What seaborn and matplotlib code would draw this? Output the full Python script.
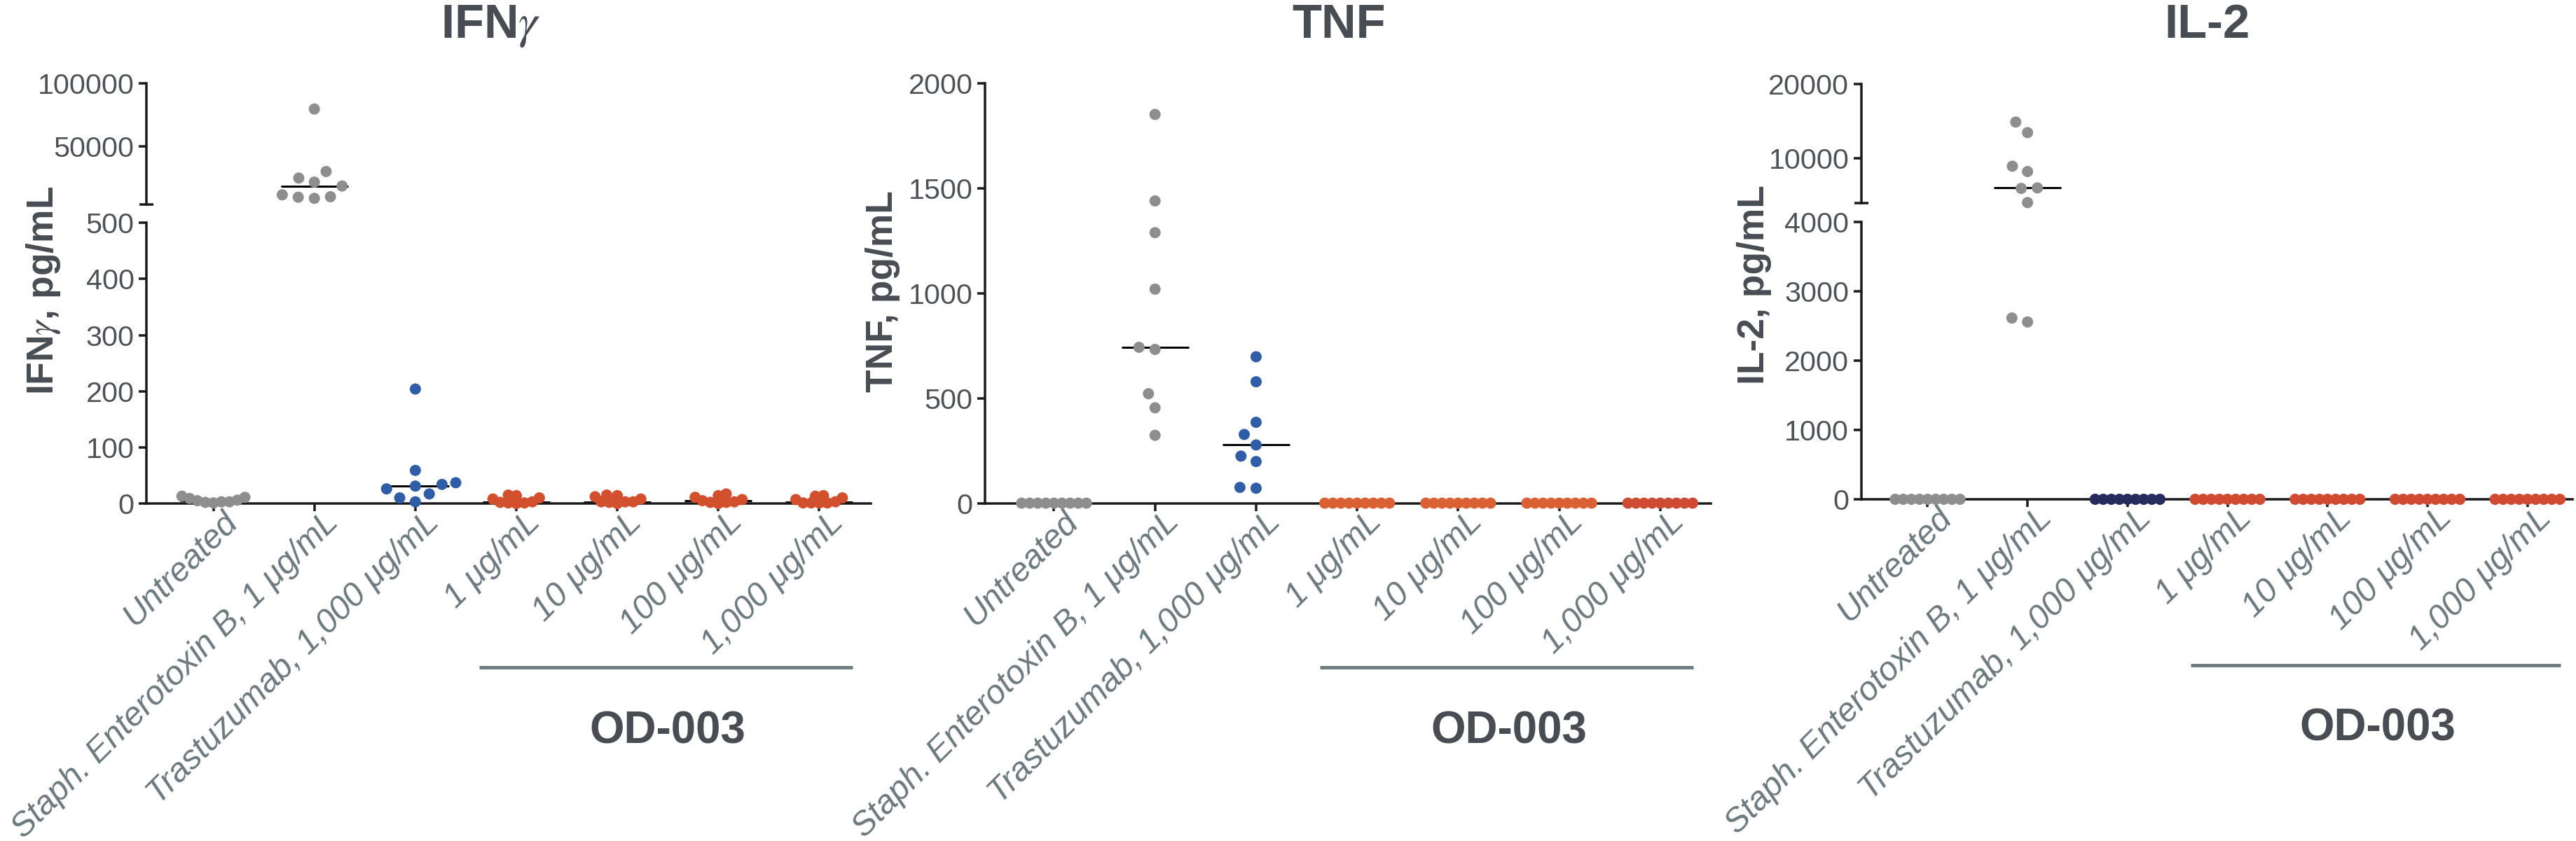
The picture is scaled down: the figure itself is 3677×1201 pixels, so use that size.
import numpy as np
import pandas as pd
import matplotlib
matplotlib.use("Agg")
import matplotlib.pyplot as plt
import matplotlib.transforms as mtransforms
import seaborn as sns

# ---------------- data ----------------
groups = ["Untreated", "Staph. Enterotoxin B, 1 μg/mL", "Trastuzumab, 1,000 μg/mL",
          "1 μg/mL", "10 μg/mL", "100 μg/mL", "1,000 μg/mL"]

ifng_untreated = [3, 13, 5, 11, 1, 9, 2, 6, 3]
ifng_seb = [79800, 30200, 18700, 8900, 11700, 21800, 9800, 25000, 10200]
ifng_trast = [204, 59, 34, 26, 31, 37, 17, 10, 3]
ifng_od1 = [3, 15, 2, 14, 0, 10, 1, 8, 1]
ifng_od10 = [3, 15, 3, 14, 0, 12, 3, 8, 2]
ifng_od100 = [3, 17, 5, 14, 0, 11, 2, 7, 2]
ifng_od1000 = [3, 14, 1, 13, 1, 10, 1, 7, 1]

tnf_untreated = [0, 0, 0, 0, 0, 0, 0, 0, 0]
tnf_seb = [1851, 1439, 1288, 1019, 742, 732, 521, 454, 323]
tnf_trast = [697, 578, 385, 327, 277, 224, 198, 75, 71]
tnf_od1 = [0, 0, 0, 0, 0, 0, 0, 0, 0]
tnf_od10 = [0, 0, 0, 0, 0, 0, 0, 0, 0]
tnf_od100 = [0, 0, 0, 0, 0, 0, 0, 0, 0]
tnf_od1000 = [0, 0, 0, 0, 0, 0, 0, 0, 0]

il2_untreated = [0, 0, 0, 0, 0, 0, 0, 0, 0]
il2_seb = [14880, 13460, 8930, 8210, 6010, 5940, 4030, 2613, 2556]
il2_trast = [0, 0, 0, 0, 0, 0, 0, 0, 0]
il2_od1 = [0, 0, 0, 0, 0, 0, 0, 0, 0]
il2_od10 = [0, 0, 0, 0, 0, 0, 0, 0, 0]
il2_od100 = [0, 0, 0, 0, 0, 0, 0, 0, 0]
il2_od1000 = [0, 0, 0, 0, 0, 0, 0, 0, 0]

ifng_ticks_upper = [50000, 100000]
ifng_ticks_lower = [0, 100, 200, 300, 400, 500]
tnf_ticks = [0, 500, 1000, 1500, 2000]
il2_ticks_upper = [10000, 20000]
il2_ticks_lower = [0, 1000, 2000, 3000, 4000]

# ---------------- style ----------------
GRAY = "#8E8E8E"
BLUE = "#2F5DA8"
NAVY = "#262C5B"
OR_IFN = "#D3502F"
OR_TNF = "#DB6134"
RED_TNF = "#CE4A32"
OR_IL2 = "#D14B32"
TXT_C = "#474D52"
NUM_C = "#4D5257"
XL_C = "#6B797E"
BAR_C = "#6F7D81"

ifng_pal = dict(zip(groups, [GRAY, GRAY, BLUE, OR_IFN, OR_IFN, OR_IFN, OR_IFN]))
tnf_pal = dict(zip(groups, [GRAY, GRAY, BLUE, OR_TNF, OR_TNF, OR_TNF, RED_TNF]))
il2_pal = dict(zip(groups, [GRAY, GRAY, NAVY, OR_IL2, OR_IL2, OR_IL2, OR_IL2]))


def make_df(*cols):
    return pd.DataFrame({"group": np.repeat(groups, [len(c) for c in cols]),
                         "value": np.concatenate([np.asarray(c, float) for c in cols])})


ifng_df = make_df(ifng_untreated, ifng_seb, ifng_trast, ifng_od1, ifng_od10, ifng_od100, ifng_od1000)
tnf_df = make_df(tnf_untreated, tnf_seb, tnf_trast, tnf_od1, tnf_od10, tnf_od100, tnf_od1000)
il2_df = make_df(il2_untreated, il2_seb, il2_trast, il2_od1, il2_od10, il2_od100, il2_od1000)

sns.set_style("ticks")
plt.rcParams["font.family"] = ["Liberation Sans", "DejaVu Sans"]
plt.rcParams["mathtext.fontset"] = "stix"

W, H, DPI = 3677, 1201, 300
PT = 72.0 / DPI
fig = plt.figure(figsize=(W / DPI, H / DPI), dpi=DPI)
fig.patch.set_facecolor("white")

LW = 3.5 * PT
TICK = 11 * PT
LAY_FLAT = 11 * PT
LAY_SPREAD = 22 * PT
VIS = 16 * PT
MED_W = 96 * PT
MED_LW = 3 * PT


def rect(l, r, t, b):
    return [l / W, 1 - b / H, (r - l) / W, (b - t) / H]


def draw_segment(ax, df, pal, spread, sub):
    for is_spread, lay in ((False, LAY_FLAT), (True, LAY_SPREAD)):
        part = sub[sub["group"].isin(spread) == is_spread]
        if len(part) == 0:
            continue
        sns.swarmplot(data=part, x="group", y="value", hue="group", palette=pal,
                      order=groups, size=lay, linewidth=0, clip_on=False,
                      zorder=3, legend=False, ax=ax)
    sns.pointplot(data=df, x="group", y="value", order=groups, estimator="median",
                  errorbar=None, color="black", markers="_", linestyles="none",
                  markersize=MED_W, markeredgewidth=MED_LW, zorder=2, ax=ax)


def style_axis(ax, role, ylim, yticks, xlim):
    ax.set_xlim(xlim)
    ax.set_ylim(ylim)
    ax.set_yticks(yticks)
    ax.set_yticklabels([f"{int(t)}" for t in yticks])
    ax.set_xlabel("")
    ax.set_ylabel("")
    for s in ["top", "right"]:
        ax.spines[s].set_visible(False)
    for s in ["left", "bottom"]:
        ax.spines[s].set_linewidth(LW)
        ax.spines[s].set_color("#1A1A1A")
    ax.tick_params(axis="y", which="major", direction="out", length=TICK, width=LW,
                   pad=1.5, labelsize=9.9, labelcolor=NUM_C, color="#1A1A1A")
    if role == "upper":
        ax.spines["bottom"].set_visible(False)
        ax.tick_params(axis="x", bottom=False, labelbottom=False)
        ax.set_yticks([ylim[0]], minor=True)
        ax.tick_params(axis="y", which="minor", direction="inout", length=20 * PT,
                       width=LW, color="#1A1A1A")
    else:
        ax.set_xticks(range(len(groups)))
        ax.set_xticklabels(groups, rotation=45, ha="right", va="top",
                           rotation_mode="anchor", fontstyle="italic",
                           fontsize=11.5, color=XL_C)
        ax.tick_params(axis="x", direction="out", length=TICK, width=LW, pad=0,
                       color="#1A1A1A")
        off = mtransforms.ScaledTranslation(11.5 / DPI, 7 / DPI, fig.dpi_scale_trans)
        for lab in ax.get_xticklabels():
            lab.set_transform(lab.get_transform() + off)
        if role == "lower":
            ax.set_yticks([ylim[1]], minor=True)
            ax.tick_params(axis="y", which="minor", direction="in", length=10 * PT,
                           width=LW, color="#1A1A1A")


def od_bracket(ax, bar_y, text_y):
    tr = mtransforms.blended_transform_factory(ax.transData, fig.transFigure)
    ax.plot([2.634, 6.33], [1 - bar_y / H, 1 - bar_y / H], transform=tr, color=BAR_C,
            lw=5 * PT, clip_on=False, solid_capstyle="butt")
    ax.text(4.5, 1 - text_y / H, "OD-003", transform=tr, ha="center", va="baseline",
            fontsize=15.3, fontweight="bold", color=TXT_C)


all_axes = []

# ---- IFNg (broken axis) ----
ifn_xlim = (-0.663, 6.51)
ax_u = fig.add_axes(rect(209, 1243, 119.3, 291.7))
ax_l = fig.add_axes(rect(209, 1243, 318.3, 719))
spread = [groups[1], groups[2]]
draw_segment(ax_u, ifng_df, ifng_pal, spread, ifng_df[ifng_df["value"] > 500])
draw_segment(ax_l, ifng_df, ifng_pal, spread, ifng_df[ifng_df["value"] <= 500])
style_axis(ax_u, "upper", (4200, 100000), ifng_ticks_upper, ifn_xlim)
style_axis(ax_l, "lower", (0, 500), ifng_ticks_lower, ifn_xlim)
od_bracket(ax_l, 953, 1061)
all_axes += [ax_u, ax_l]

# ---- TNF ----
tnf_xlim = (-0.685, 6.5)
ax_t = fig.add_axes(rect(1405.7, 2442, 118.7, 718.5))
draw_segment(ax_t, tnf_df, tnf_pal, spread, tnf_df)
style_axis(ax_t, "single", (0, 2000), tnf_ticks, tnf_xlim)
od_bracket(ax_t, 953, 1061)
all_axes += [ax_t]

# ---- IL-2 (broken axis) ----
il2_xlim = (-0.665, 6.45)
ax_u2 = fig.add_axes(rect(2656.5, 3672, 120, 290))
ax_l2 = fig.add_axes(rect(2656.5, 3672, 316.7, 713))
spread2 = [groups[1]]
draw_segment(ax_u2, il2_df, il2_pal, spread2, il2_df[il2_df["value"] > 4000])
draw_segment(ax_l2, il2_df, il2_pal, spread2, il2_df[il2_df["value"] <= 4000])
style_axis(ax_u2, "upper", (3962, 20000), il2_ticks_upper, il2_xlim)
style_axis(ax_l2, "lower", (0, 4000), il2_ticks_lower, il2_xlim)
od_bracket(ax_l2, 950, 1058)
all_axes += [ax_u2, ax_l2]

# ---- titles & y labels ----
for x, t in [(700, "IFN$\\gamma$"), (1911, "TNF"), (3150, "IL-2")]:
    fig.text(x / W, 1 - 54 / H, t, ha="center", va="baseline", fontsize=16.5,
             fontweight="bold", color=TXT_C)
for x, y, t in [(62, 415, "IFN$\\gamma$, pg/mL"), (1260, 416, "TNF, pg/mL"),
                (2504, 407, "IL-2, pg/mL")]:
    fig.text(x / W, 1 - y / H, t, rotation=90, ha="center", va="center",
             fontsize=12.8, fontweight="bold", color=TXT_C)

# swarm positions are computed by seaborn at draw time with the layout size;
# afterwards the markers are shown at their final size
fig.canvas.draw()
for ax in all_axes:
    for coll in ax.collections:
        if "draw" in coll.__dict__:
            del coll.draw
        coll.set_sizes([VIS ** 2])

fig.savefig("out.png", dpi=DPI, facecolor="white")
